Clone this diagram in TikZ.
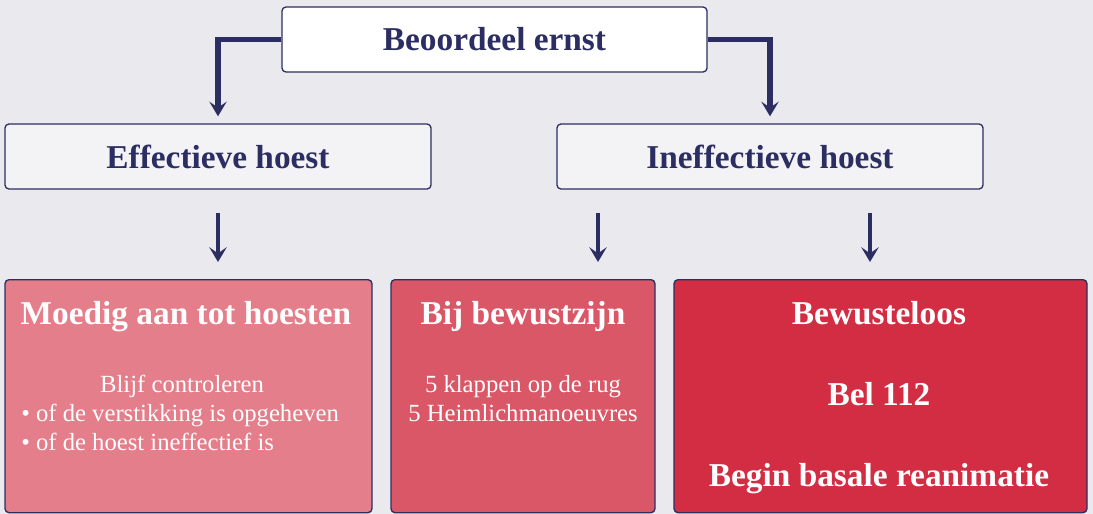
\documentclass[tikz,border=0pt]{standalone}
\usepackage{fontspec}
\setmainfont{Liberation Serif}
\usetikzlibrary{arrows.meta, calc, positioning}

\definecolor{navy}{HTML}{2C2E62}
\definecolor{bgGrey}{HTML}{EAE9EE}
\definecolor{boxGrey}{HTML}{F3F3F6}
\definecolor{pinkLight}{HTML}{E47E8A}
\definecolor{pinkMid}{HTML}{DA5767}
\definecolor{redDeep}{HTML}{D22D42}

\begin{document}
\begin{tikzpicture}[
    >={Stealth[length=11pt, width=13pt, inset=4.5pt]},
    x=0.75pt, y=-0.75pt, % 1 unit = 1 pixel, y pointing down
    box/.style={draw=navy, line width=1pt, rounded corners=3pt, inner sep=0pt},
    head/.style={font=\fontsize{25}{30}\selectfont\bfseries},
    body/.style={font=\fontsize{18.5}{22}\selectfont, text=white},
    flow/.style={->, navy, line width=3.3pt},
]

    % === DEFINITIONS ===
    \def\px{0.75pt}
    \def\topW{425}  % Width of the two upper rows
    \def\rowH{65}   % Height of the upper boxes
    \def\lowH{233}  % Height of the coloured boxes

    % Canvas
    \fill[bgGrey] (0,0) rectangle (1093,514);
    \useasboundingbox (0,0) rectangle (1093,514);

    % === 1. QUESTION & TWO KINDS OF COUGH ===
    \node[box, fill=white, text=navy, head, minimum width=\topW*\px, minimum height=\rowH*\px]
        (ernst) at (494.5, 39.5) {Beoordeel ernst};
    \node[box, fill=boxGrey, text=navy, head, minimum width=426*\px, minimum height=\rowH*\px]
        (eff) at (218, 156.5) {Effectieve hoest};
    \node[box, fill=boxGrey, text=navy, head, minimum width=426*\px, minimum height=\rowH*\px]
        (ineff) at (770, 156.5) {Ineffectieve hoest};

    % Branch arrows from the top box
    \draw[flow, line width=3.8pt, shorten >=7*\px] (ernst.west) -| (eff.north);
    \draw[flow, line width=3.8pt, shorten >=7*\px] (ernst.east) -| (ineff.north);


    % === 2. THE THREE ACTIONS ===
    \node[box, fill=pinkLight, minimum width=367*\px, minimum height=\lowH*\px, anchor=north]
        (moedig) at (188.5, 279) {};
    \node[box, fill=pinkMid, minimum width=264*\px, minimum height=\lowH*\px, anchor=north]
        (bij) at (523, 279) {};
    \node[box, fill=redDeep, minimum width=413*\px, minimum height=\lowH*\px, anchor=north]
        (bewust) at (880.5, 279) {};

    % Drop arrows (free ends sit under the upper boxes)
    \coordinate (dropBij) at ($(ineff.south)+(-172,0)$);
    \coordinate (dropBewust) at ($(ineff.south)+(100,0)$);
    \draw[flow, shorten <=23*\px, shorten >=17*\px] (eff.south) -- (eff.south |- moedig.north);
    \draw[flow, shorten <=23*\px, shorten >=17*\px] (dropBij) -- (dropBij |- bij.north);
    \draw[flow, shorten <=23*\px, shorten >=17*\px] (dropBewust) -- (dropBewust |- bewust.north);


    % === 3. TEXTS IN THE COLOURED BOXES ===
    % Effective cough
    \node[head, text=white, anchor=base] (moedigTitle) at (186, 324) {Moedig aan tot hoesten};
    \node[body, anchor=base] (moedigCheck) at (182, 392) {Blijf controleren};
    \node[body, anchor=base west, inner sep=0pt] (moedigOne) at (21, 421) {• of de verstikking is opgeheven};
    \node[body, anchor=base west, inner sep=0pt] (moedigTwo) at (21, 450) {• of de hoest ineffectief is};

    % Conscious
    \node[head, text=white, anchor=base] (bijTitle) at (523, 324) {Bij bewustzijn};
    \node[body, anchor=base] (bijKlap) at (523, 392) {5 klappen op de rug};
    \node[body, anchor=base] (bijHeim) at (523, 421) {5 Heimlichmanoeuvres};

    % Unconscious
    \node[head, text=white, anchor=base] (bewustTitle) at (879, 324) {Bewusteloos};
    \node[head, text=white, anchor=base] (bewustBel) at (879, 405) {Bel 112};
    \node[head, text=white, anchor=base] (bewustReani) at (879, 486) {Begin basale reanimatie};

\end{tikzpicture}
\end{document}
